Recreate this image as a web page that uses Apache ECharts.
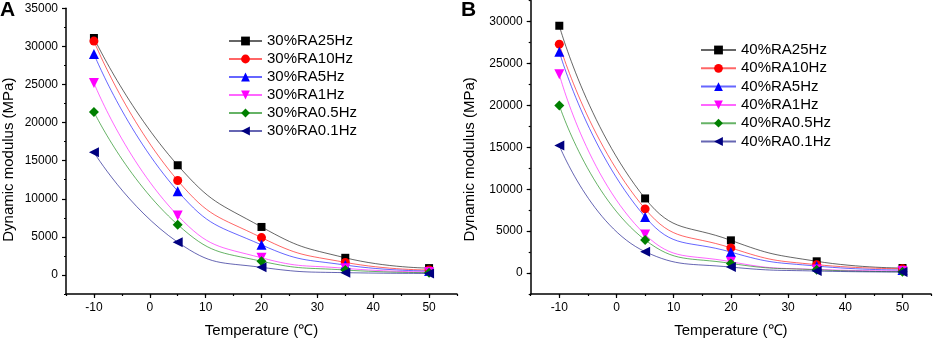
<!DOCTYPE html>
<html>
<head>
<meta charset="utf-8">
<script src="https://cdn.jsdelivr.net/npm/echarts@6/dist/echarts.min.js"></script>
<style>
html,body{margin:0;padding:0;background:#fff;}
#chart{width:934px;height:343px;}
</style>
</head>
<body>
<div id="chart"></div>
<script>
// ---- data ----
const temps = [-10, 5, 20, 35, 50];
const xTickLabels = [-10, 0, 10, 20, 30, 40, 50];
const yTickLabelsA = [0, 5000, 10000, 15000, 20000, 25000, 30000, 35000];
const yTickLabelsB = [0, 5000, 10000, 15000, 20000, 25000, 30000];

const namesA = ['30%RA25Hz', '30%RA10Hz', '30%RA5Hz', '30%RA1Hz', '30%RA0.5Hz', '30%RA0.1Hz'];
const namesB = ['40%RA25Hz', '40%RA10Hz', '40%RA5Hz', '40%RA1Hz', '40%RA0.5Hz', '40%RA0.1Hz'];

const a25Hz  = [31100, 14400, 6300, 2250, 900];
const a10Hz  = [30700, 12400, 4900, 1650, 650];
const a5Hz   = [29000, 11000, 3950, 1300, 520];
const a1Hz   = [25200, 7800, 2250, 870, 390];
const a05Hz  = [21400, 6600, 1800, 650, 300];
const a01Hz  = [16100, 4300, 1000, 300, 200];

const b25Hz  = [29500, 8900, 3900, 1400, 600];
const b10Hz  = [27300, 7650, 3000, 1000, 510];
const b5Hz   = [26400, 6700, 2500, 830, 360];
const b1Hz   = [23700, 4600, 1350, 430, 240];
const b05Hz  = [20000, 3950, 1150, 390, 160];
const b01Hz  = [15200, 2550, 710, 240, 120];

const seriesA = [a25Hz, a10Hz, a5Hz, a1Hz, a05Hz, a01Hz];
const seriesB = [b25Hz, b10Hz, b5Hz, b1Hz, b05Hz, b01Hz];

// ---- styles ----
const colors = ['#000000', '#ff0000', '#0000ff', '#ff00ff', '#008000', '#000080'];
const symbols = ['rect', 'circle', 'triangle', 'triangle', 'diamond', 'triangle'];
const rotates = [0, 0, 0, 180, 0, 90];
const sizes = [8, 9, 10, 10, 10, 10];
const FONT = '"Liberation Sans", Arial, Helvetica, sans-serif';

function makeSeries(names, data, xi, yi) {
  return names.map((n, i) => ({
    name: n,
    type: 'line',
    xAxisIndex: xi,
    yAxisIndex: yi,
    data: temps.map((t, k) => [t, data[i][k]]),
    smooth: 0.5,
    symbol: symbols[i],
    symbolRotate: rotates[i],
    symbolSize: sizes[i],
    itemStyle: { color: colors[i], opacity: 1 },
    lineStyle: { color: colors[i], width: 1, opacity: 0.6 },
    emphasis: { disabled: true },
    animation: false
  }));
}

function xAxes(grid) {
  return [{
    gridIndex: grid, type: 'value', position: 'bottom', min: -15, max: 55, interval: 5,
    name: 'Temperature (\u2103)', nameLocation: 'middle', nameGap: 29,
    nameTextStyle: { fontSize: 15, color: '#000', fontFamily: FONT },
    axisLine: { show: true, onZero: false, lineStyle: { color: '#000', width: 1.5 } },
    axisTick: { show: true, length: 2, lineStyle: { color: '#000', width: 1.2 } },
    axisLabel: { customValues: xTickLabels, fontSize: 12, color: '#000', fontFamily: FONT, margin: 8,
                 formatter: v => String(v) },
    splitLine: { show: false }
  }, {
    gridIndex: grid, type: 'value', position: 'bottom', offset: 0, min: -15, max: 55, interval: 5,
    axisLine: { show: false, onZero: false },
    axisTick: { show: true, length: 4, customValues: xTickLabels, lineStyle: { color: '#000', width: 1.2 } },
    axisLabel: { show: false },
    splitLine: { show: false }
  }];
}

function yAxes(grid, max, labels, pad, gap) {
  return [{
    gridIndex: grid, type: 'value', position: 'left', min: -2500, max: max, interval: 2500,
    name: 'Dynamic modulus (MPa)', nameLocation: 'middle', nameGap: gap,
    nameTextStyle: { fontSize: 15, color: '#000', fontFamily: FONT, padding: pad },
    axisLine: { show: true, onZero: false, lineStyle: { color: '#000', width: 1.5 } },
    axisTick: { show: true, length: 2, lineStyle: { color: '#000', width: 1.2 } },
    axisLabel: { customValues: labels, fontSize: 12, color: '#000', fontFamily: FONT, margin: 8,
                 formatter: v => String(v) },
    splitLine: { show: false }
  }, {
    gridIndex: grid, type: 'value', position: 'left', offset: 0, min: -2500, max: max, interval: 2500,
    axisLine: { show: false, onZero: false },
    axisTick: { show: true, length: 4, customValues: labels, lineStyle: { color: '#000', width: 1.2 } },
    axisLabel: { show: false },
    splitLine: { show: false }
  }];
}

const chart = echarts.init(document.getElementById('chart'), null, { renderer: 'canvas' });
const option = {
  backgroundColor: '#fff',
  animation: false,
  grid: [
    { left: 64, top: 8.3, width: 393, height: 289.3 },
    { left: 530.7, top: 0.6, width: 400.4, height: 295.8 }
  ],
  xAxis: [...xAxes(0), ...xAxes(1)],
  yAxis: [...yAxes(0, 35000, yTickLabelsA, [0, 17, 0, 0], 50), ...yAxes(1, 32500, yTickLabelsB, [0, 24, 0, 0], 53)],
  legend: [
    {
      data: namesA, orient: 'vertical', left: 223, top: 28.5,
      itemWidth: 33, itemHeight: 11, itemGap: 3,
      textStyle: { fontSize: 15, color: '#000', fontFamily: FONT },
      selectedMode: false
    },
    {
      data: namesB, orient: 'vertical', left: 695, top: 37.5,
      itemWidth: 35, itemHeight: 11, itemGap: 3.3,
      textStyle: { fontSize: 15, color: '#000', fontFamily: FONT },
      selectedMode: false
    }
  ],
  graphic: [
    { type: 'text', left: 0, top: 0, style: { text: 'A', font: 'bold 21px ' + FONT, fill: '#000' } },
    { type: 'text', left: 461, top: 0, style: { text: 'B', font: 'bold 21px ' + FONT, fill: '#000' } }
  ],
  series: [...makeSeries(namesA, seriesA, 0, 0), ...makeSeries(namesB, seriesB, 2, 2)]
};
chart.setOption(option);
</script>
</body>
</html>
